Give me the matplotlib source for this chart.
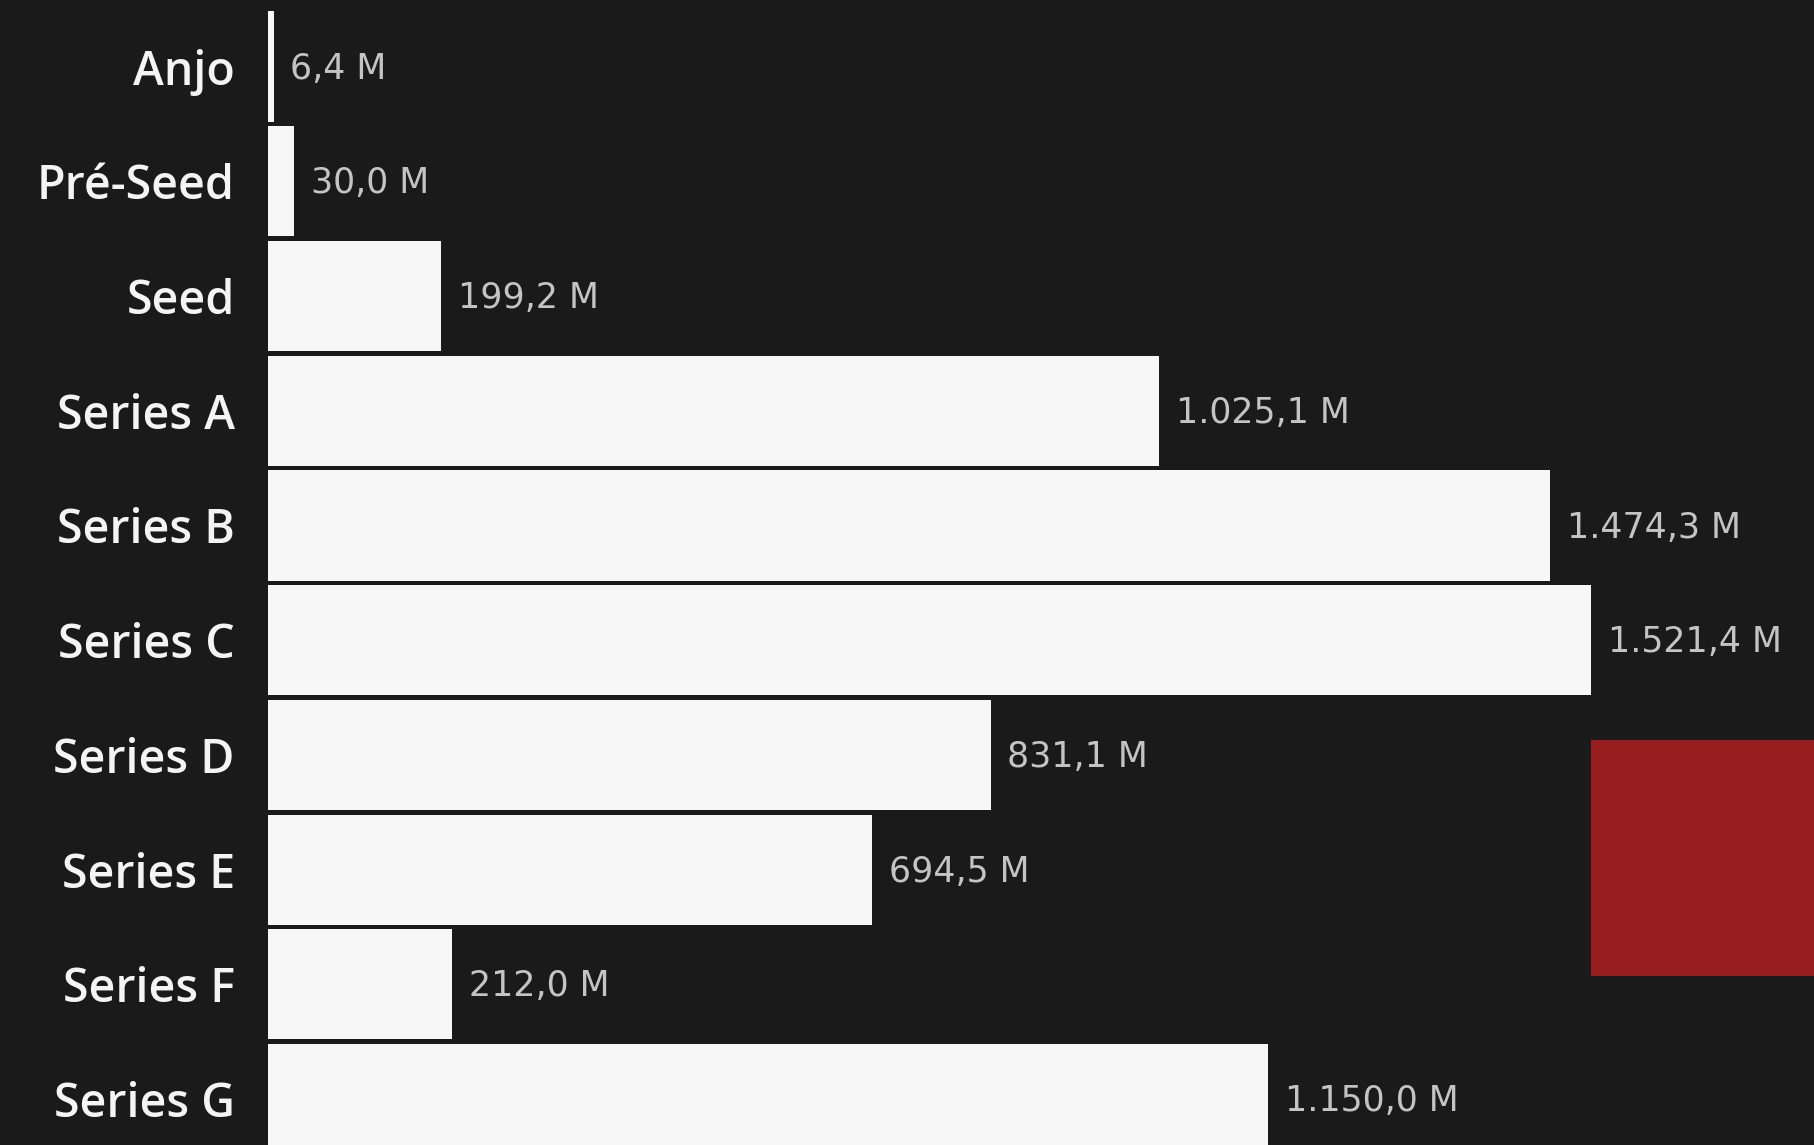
import matplotlib
matplotlib.use("Agg")
import matplotlib.pyplot as plt
from matplotlib.patches import Rectangle

categories = ["Anjo", "Pré-Seed", "Seed", "Series A", "Series B", "Series C",
              "Series D", "Series E", "Series F", "Series G"]
values = [6.4, 30.0, 199.2, 1025.1, 1474.3, 1521.4, 831.1, 694.5, 212.0, 1150.0]
value_labels = ["6,4 M", "30,0 M", "199,2 M", "1.025,1 M", "1.474,3 M", "1.521,4 M",
                "831,1 M", "694,5 M", "212,0 M", "1.150,0 M"]

BG = "#1a1a1a"
BAR = "#f7f7f7"
plt.rcParams['font.family'] = ['DejaVu Sans']

W, H = 1814, 1145
fig = plt.figure(figsize=(W / 100, H / 100), dpi=100, facecolor=BG)
ax = fig.add_axes([268 / W, 0, 1 - 268 / W, 1])
ax.set_facecolor(BG)

y = list(range(len(categories)))
ax.barh(y, values, height=0.96, color=BAR, edgecolor='none')
ax.set_xlim(0, (W - 268) / 0.8696)
ax.set_ylim(9.40, -0.58)

for yi, v, lab in zip(y, values, value_labels):
    ax.annotate(lab, (v, yi), xytext=(12, -1.5), textcoords='offset points',
                va='center', ha='left', fontsize=25, color='#c4c4c4')

ax.set_yticks(y)
ax.set_yticklabels(categories, fontsize=33.5, color='#f4f4f4',
                   fontweight='semibold', family=['Open Sans', 'DejaVu Sans'])
ax.tick_params(axis='y', length=0, pad=24)
ax.set_xticks([])
for s in ax.spines.values():
    s.set_visible(False)

fig.patches.append(Rectangle((1591 / W, 1 - 976 / H), (W - 1591) / W, (976 - 740) / H,
                             transform=fig.transFigure, facecolor='#981d1e',
                             edgecolor='none', zorder=5))

fig.savefig("out.png", dpi=100, facecolor=BG)
